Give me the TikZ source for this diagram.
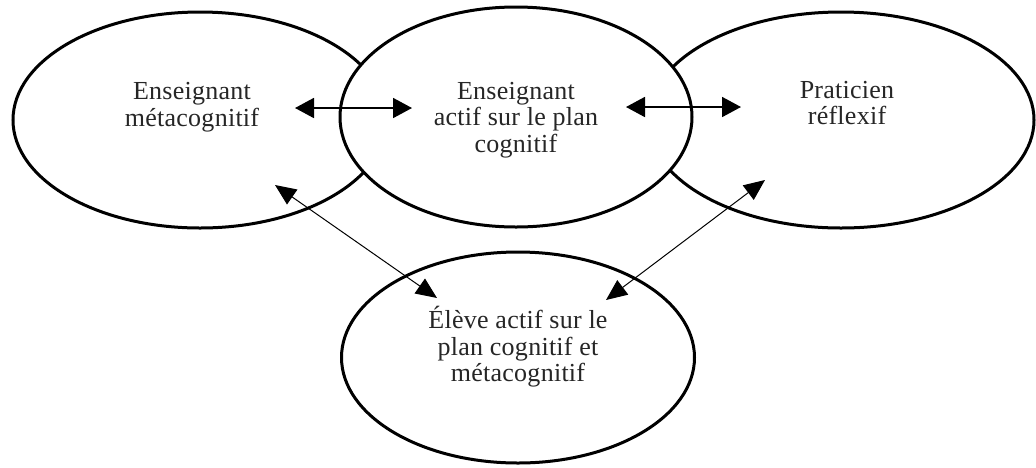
\documentclass[tikz,border=0pt]{standalone}
\usepackage{fontspec}
\usetikzlibrary{arrows.meta,shapes.geometric}
\newfontfamily\lblfont{Liberation Serif}[LetterSpace=1]
\tikzset{
  bubble/.style={ellipse, draw=black, line width=3pt, fill=white, inner sep=0pt},
  lbl/.style={align=center, font=\lblfont\fontsize{26}{26.5}\selectfont, text=black!85},
  bigarrow/.style={line width=1.8pt, {Triangle[length=19pt,width=20pt]}-{Triangle[length=19pt,width=20pt]}},
  thinarrow/.style={line width=1pt, {Triangle[length=21pt,width=18pt]}-{Triangle[length=21pt,width=18pt]}}
}
\begin{document}
\begin{tikzpicture}[x=1pt,y=-1pt]
\useasboundingbox (0,0) rectangle (1036,467);
% three overlapping bubbles, the middle one on top
\node[bubble, minimum width=374pt, minimum height=216pt] (eL) at (200,120) {};
\node[bubble, minimum width=386pt, minimum height=216pt] (eR) at (841,120) {};
\node[bubble, minimum width=352pt, minimum height=220pt] (eC) at (516,117) {};
% lower bubble
\node[bubble, minimum width=353pt, minimum height=211pt] (eB) at (518,357.5) {};
% labels
\node[lbl] (tL) at (192,107) {Enseignant\\métacognitif};
\node[lbl] (tC) at (516,120) {Enseignant\\actif sur le plan\\cognitif};
\node[lbl] (tR) at (847,103) {Praticien\\réflexif};
\node[lbl] (tB) at (518,347) {Élève actif sur le\\plan cognitif et\\métacognitif};
% arrow ends
\coordinate (aL1) at (295,108);
\coordinate (aC1) at (412,108);
\coordinate (aC2) at (626,107);
\coordinate (aR1) at (741,107);
\coordinate (dL1) at (275,185);
\coordinate (dB1) at (437,298);
\coordinate (dR1) at (765,180);
\coordinate (dB2) at (606,300);
\draw[bigarrow] (aL1) -- (aC1);
\draw[bigarrow] (aC2) -- (aR1);
\draw[thinarrow] (dL1) -- (dB1);
\draw[thinarrow] (dR1) -- (dB2);
\end{tikzpicture}
\end{document}
